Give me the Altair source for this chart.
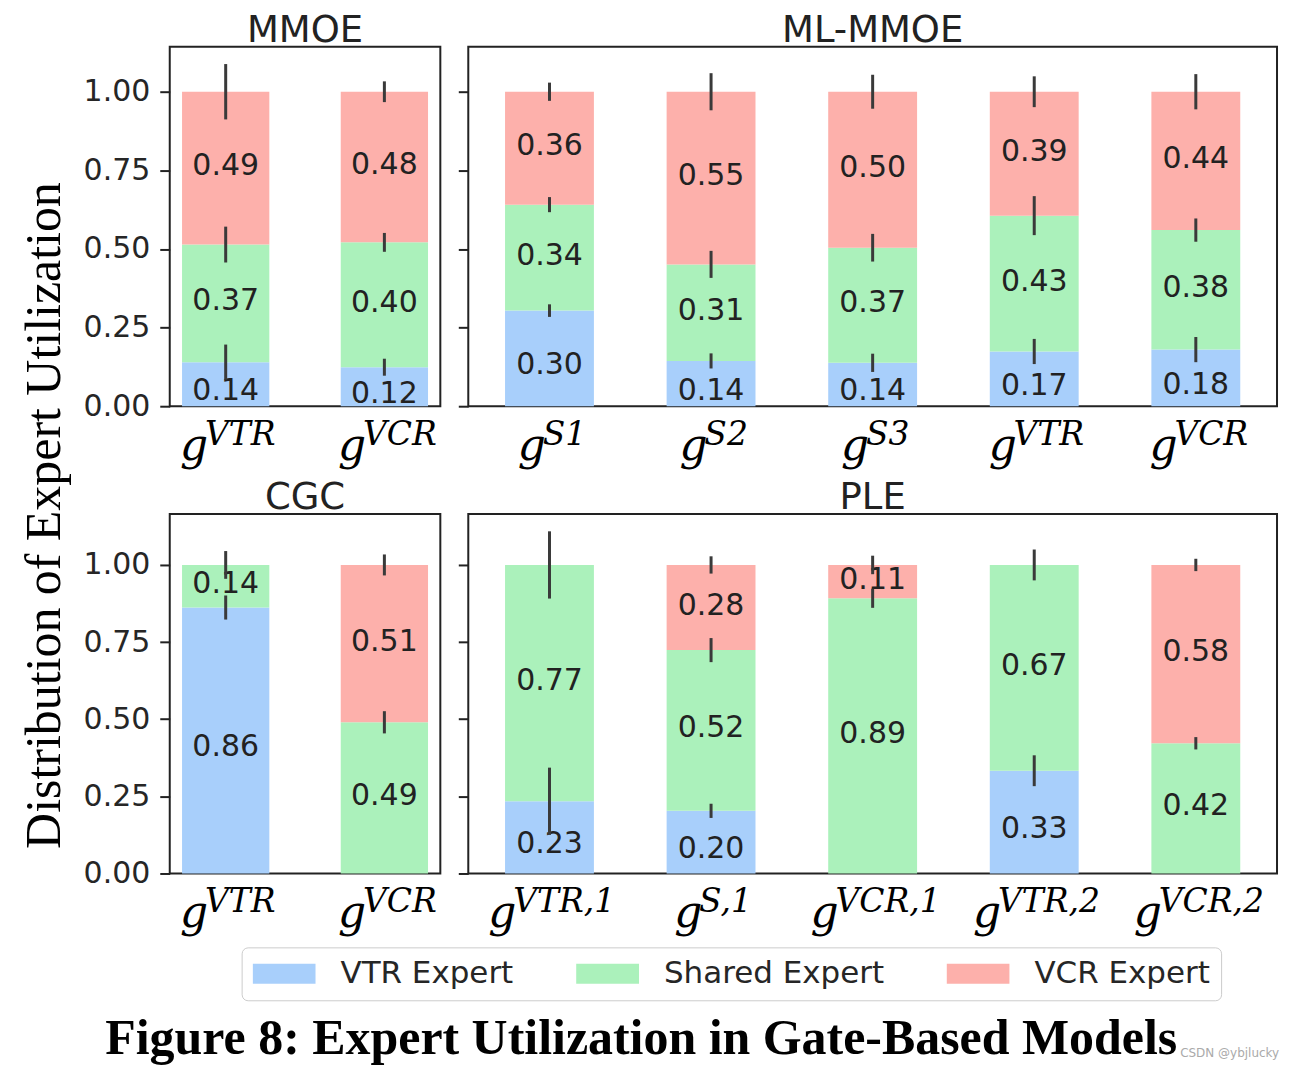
import altair as alt
import pandas as pd

# ---------------- data ----------------
panel_names = ["MMOE", "ML-MMOE", "CGC", "PLE"]
gate_labels = [
    ["VTR", "VCR"],
    ["S1", "S2", "S3", "VTR", "VCR"],
    ["VTR", "VCR"],
    ["VTR,1", "S,1", "VCR,1", "VTR,2", "VCR,2"],
]
expert_names = ["VTR Expert", "Shared Expert", "VCR Expert"]
expert_colors = ["#a8cffb", "#abf1bb", "#fdb0ab"]

vtr_share = [[0.140, 0.124], [0.304, 0.144, 0.138, 0.174, 0.180],
             [0.862, 0.0], [0.234, 0.203, 0.0, 0.333, 0.0]]
shared_share = [[0.374, 0.397], [0.337, 0.307, 0.366, 0.432, 0.380],
                [0.138, 0.490], [0.766, 0.521, 0.892, 0.667, 0.422]]
vcr_share = [[0.486, 0.479], [0.359, 0.549, 0.496, 0.394, 0.440],
             [0.0, 0.510], [0.0, 0.276, 0.108, 0.0, 0.578]]

vtr_err = [[0.056, 0.027], [0.020, 0.024, 0.029, 0.040, 0.040],
           [0.039, 0.0], [0.109, 0.023, 0.0, 0.050, 0.0]]
shared_err = [[0.057, 0.030], [0.024, 0.043, 0.044, 0.062, 0.037],
              [0.045, 0.036], [0.109, 0.039, 0.031, 0.050, 0.020]]
vcr_err = [[0.088, 0.033], [0.029, 0.059, 0.054, 0.049, 0.056],
           [0.0, 0.034], [0.0, 0.028, 0.030, 0.0, 0.020]]

y_ticks = [0.0, 0.25, 0.5, 0.75, 1.0]
y_title = "Distribution of Expert Utilization"
fig_title = "Figure 8: Expert Utilization in Gate-Based Models"
watermark = "CSDN @ybjlucky"

# ---------------- table ----------------
rows = []
shares = [vtr_share, shared_share, vcr_share]
errs = [vtr_err, shared_err, vcr_err]
for p, name in enumerate(panel_names):
    for i, g in enumerate(gate_labels[p]):
        base = 0.0
        for e in range(3):
            v = shares[e][p][i]
            er = errs[e][p][i]
            top = base + v
            rows.append(dict(panel=name, gate=g, expert=expert_names[e], value=v,
                             y0=base, y1=top, mid=base + v / 2,
                             lo=top - er, hi=top + er))
            base = top
df = pd.DataFrame(rows)

SUP_W = {"V": 0.72, "T": 0.67, "R": 0.74, "C": 0.72, "S": 0.65,
         "1": 0.636, "2": 0.636, "3": 0.636, ",": 0.318}
SUP_FS = 33
G_FS = 44
G_ADV = 25


def sup_width(s):
    return sum(SUP_W.get(c, 0.6) for c in s) * SUP_FS


PLOT_H = 360

LEGEND = alt.Legend(
    title=None, orient="none", legendX=72, legendY=902,
    direction="horizontal", columns=3,
    symbolType="M-1,-0.3175H1V0.3175H-1Z", symbolSize=3969, clipHeight=31,
    symbolStrokeWidth=0, symbolOpacity=1,
    labelFont="DejaVu Sans", labelFontSize=31, labelColor="#262626",
    labelOffset=25, labelLimit=600, labelBaseline="middle",
    columnPadding=62, padding=11,
    strokeColor="#cccccc", fillColor="white", cornerRadius=6,
)


def make_panel(p, width, pad_outer, ymax, show_labels, extras=()):
    name = panel_names[p]
    gates = gate_labels[p]
    d = df[df.panel == name]
    xscale = alt.Scale(domain=gates, paddingInner=0.45, paddingOuter=pad_outer)
    yscale = alt.Scale(domain=[0, ymax], nice=False, zero=False)
    x = alt.X("gate:N", scale=xscale, axis=None, sort=gates)
    yaxis = alt.Axis(values=y_ticks, format=".2f", labels=show_labels, ticks=True,
                     domain=False, grid=False, tickSize=10, tickWidth=2,
                     tickColor="#222222", labelFont="DejaVu Sans", labelFontSize=30,
                     labelColor="#262626", labelPadding=10, title=None)
    base = alt.Chart(d)
    bars = base.mark_bar(strokeWidth=0).encode(
        x=x,
        y=alt.Y("y0:Q", scale=yscale, axis=yaxis, stack=None, title=None),
        y2="y1:Q",
        color=alt.Color("expert:N", scale=alt.Scale(domain=expert_names, range=expert_colors),
                        legend=LEGEND),
    )
    nz = base.transform_filter("datum.value > 0")
    txt = dict(font="DejaVu Sans", fontSize=30, color="#222222", baseline="middle", align="center")
    lab_v = nz.transform_filter("datum.expert == 'VTR Expert'").mark_text(dy=7, **txt).encode(
        x=x, y=alt.Y("mid:Q", scale=yscale, axis=yaxis, title=None),
        text=alt.Text("value:Q", format=".2f"))
    lab_o = nz.transform_filter("datum.expert != 'VTR Expert'").mark_text(dy=-2, **txt).encode(
        x=x, y=alt.Y("mid:Q", scale=yscale, axis=yaxis, title=None),
        text=alt.Text("value:Q", format=".2f"))
    ebar = nz.mark_rule(strokeWidth=3, color="#3a3a3a").encode(
        x=x, y=alt.Y("lo:Q", scale=yscale, axis=yaxis, title=None), y2="hi:Q")

    tl = pd.DataFrame({"gate": gates, "sup": gates})
    tl["total"] = G_ADV + tl["sup"].map(sup_width)
    tl["gx"] = -tl["total"] / 2 + 2
    tl["sx"] = tl["gx"] + G_ADV
    g_mark = alt.Chart(tl).mark_text(
        text="g", font="DejaVu Serif", fontStyle="italic", fontSize=G_FS,
        align="left", baseline="alphabetic", color="black",
        dx=alt.ExprRef("datum.gx")).encode(
        x=x, y=alt.value(PLOT_H + 54))
    s_mark = alt.Chart(tl).mark_text(
        font="DejaVu Serif", fontStyle="italic", fontSize=SUP_FS,
        align="left", baseline="alphabetic", color="black",
        dx=alt.ExprRef("datum.sx")).encode(
        x=x, y=alt.value(PLOT_H + 39), text="sup:N")

    return alt.layer(bars, lab_v, lab_o, ebar, g_mark, s_mark, *extras).properties(
        width=width, height=PLOT_H,
        title=alt.TitleParams(name, font="DejaVu Sans", fontSize=37, fontWeight="normal",
                              color="#222222", offset=-32, baseline="alphabetic", anchor="middle"),
    )


wm_mark = alt.Chart(pd.DataFrame({"t": [watermark]})).mark_text(
    font="DejaVu Sans", fontSize=12, color="#aaaaaa", align="left", baseline="middle").encode(
    text="t:N", x=alt.value(713), y=alt.value(540))

mmoe = make_panel(0, 271, 0.0775, 1.143, True)
ml = make_panel(1, 810, 0.2275, 1.143, False)
cgc = make_panel(2, 271, 0.0775, 1.165, True)
ple = make_panel(3, 810, 0.2275, 1.165, False, extras=(wm_mark,))

grid = alt.concat(
    mmoe, ml, cgc, ple, columns=2, spacing={"row": 8, "column": 15},
).properties(
    title=alt.TitleParams(y_title, orient="left", anchor="middle",
                          font="Liberation Serif", fontSize=50, fontWeight="normal",
                          color="black", offset=12, dx=20),
)

chart = alt.vconcat(grid).resolve_scale(color="shared").properties(
    title=alt.TitleParams(fig_title, orient="bottom", anchor="middle",
                          font="Liberation Serif", fontSize=50, fontWeight="bold",
                          color="black", offset=-46, dx=-9),
    padding={"left": 12, "top": 2, "right": 5, "bottom": 0},
).configure_view(stroke="#222222", strokeWidth=2)

chart.save("out.html", embed_options={"renderer": "svg", "actions": False})
